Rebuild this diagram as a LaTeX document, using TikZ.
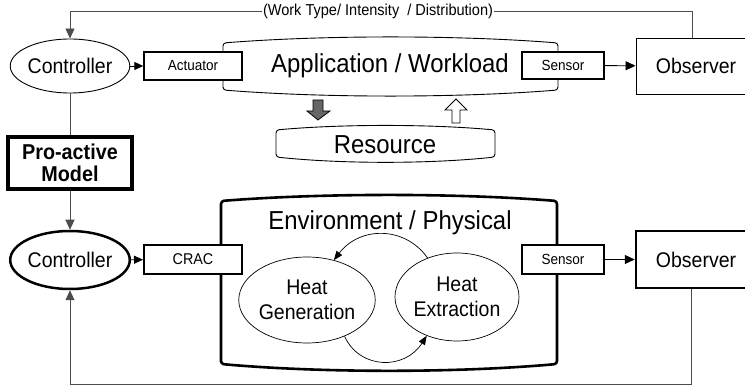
\documentclass[tikz,border=0pt]{standalone}
\usepackage{fontspec}
\setmainfont[FakeStretch=0.92]{Liberation Sans}
\usetikzlibrary{arrows.meta,shapes.geometric,calc}

% font sizes (1pt = one unit of the drawing)
\newcommand\fsbig{\fontsize{26}{30}\selectfont}
\newcommand\fsmid{\fontsize{21.2}{25.5}\selectfont}
\newcommand\fssmall{\fontsize{14.7}{17}\selectfont}
\newcommand\fscrac{\fontsize{15.6}{18}\selectfont}
\newcommand\fslabel{\fontsize{15.8}{18}\selectfont}
\newcommand\fsbold{\fontsize{21.5}{21.5}\selectfont\bfseries}

% lens-like container: vertical sides, top and bottom edges bowed outwards
% #1 style, #2 left x, #3 right x, #4 top corner y, #5 bottom corner y, #6 top bow, #7 bottom bow
\newcommand\lensbox[7]{%
  \draw[#1,rounded corners=3pt] (#2,#5) -- (#2,#4)
    .. controls ($(#2,#4)!0.3!(#3,#4)+(0,-#6)$) and ($(#2,#4)!0.7!(#3,#4)+(0,-#6)$) .. (#3,#4)
    -- (#3,#5)
    .. controls ($(#2,#5)!0.7!(#3,#5)+(0,#7)$) and ($(#2,#5)!0.3!(#3,#5)+(0,#7)$) .. cycle;}

\tikzset{
  conn/.style={draw=black!70, line width=0.9pt},
  tipbig/.style={-{Triangle[length=10pt,width=9pt]}},
  tipsmall/.style={-{Triangle[length=9pt,width=8pt]}},
  ctrl/.style={ellipse, draw, fill=white, inner sep=0pt, font=\fsmid},
  smallbox/.style={rectangle, draw, fill=white, inner sep=0pt, minimum width=98pt},
  obsbox/.style={rectangle, draw, fill=white, inner sep=0pt, minimum width=120pt, font=\fsmid},
  heat/.style={ellipse, draw, line width=0.7pt, minimum width=124pt, inner sep=0pt, align=center, font=\fsmid},
}

\begin{document}
\begin{tikzpicture}[x=1pt,y=-1pt]
\useasboundingbox (0,0) rectangle (745,387);
\clip (0,0) rectangle (745,387);

% ---------- upper loop: application / workload ----------
\lensbox{line width=0.9pt}{223}{558}{43}{90}{8}{8}
\node[font=\fsbig] (app) at (390,66) {Application / Workload};

\lensbox{line width=0.9pt}{276}{495}{130}{157}{6}{7}
\node[font=\fsbig] (res) at (385,145) {Resource};

% resource exchange arrows
\draw[line width=0.8pt, fill=black!60] (313,100) -- (323,100) -- (323,111) -- (330,111)
  -- (318,120) -- (307,111) -- (313,111) -- cycle;
\draw[line width=0.8pt, fill=white] (452,123) -- (460,123) -- (460,110) -- (467,110)
  -- (456,99) -- (445,110) -- (452,110) -- cycle;

\node[ctrl, line width=0.9pt, minimum width=113pt, minimum height=54pt] (c1) at (70,66) {Controller};
\node[smallbox, line width=1.4pt, minimum height=28pt, font=\fssmall] (act) at (193,66) {Actuator};
\node[smallbox, line width=1.4pt, minimum width=82pt, minimum height=27pt, font=\fssmall] (s1) at (563,65.5) {Sensor};
\node[obsbox, line width=0.9pt, minimum height=56pt] (o1) at (696,66) {Observer};

\draw[conn, draw=black, tipsmall] (c1) -- (act);
\draw[conn, draw=black, tipbig] (s1) -- (o1);

% workload feedback from the observer
\coordinate (topl) at (70,11);
\draw[conn, tipbig] ([xshift=57pt]o1.north west) |- (topl) -- (c1.north);
\node[fill=white, inner sep=1.5pt, font=\fslabel] (lbl) at (378,11)
  {(Work Type/ Intensity\ \ / Distribution)};

% ---------- pro-active model ----------
\node[rectangle, draw, line width=4pt, fill=white, inner sep=0pt, minimum width=124pt,
  minimum height=52pt, align=center, font=\fsbold] (pm) at (70,163) {Pro-active\\Model};

% ---------- lower loop: environment / physical ----------
\lensbox{line width=2.6pt}{221}{557}{201}{364}{8}{9}
\node[font=\fsbig] (env) at (390,223) {Environment / Physical};

\node[heat] (gen) at (307,300) [minimum height=86pt] {Heat\\Generation};
\node[heat] (ext) at (457,297) [minimum height=88pt] {Heat\\Extraction};

\draw[line width=0.7pt, -{Triangle[length=9pt,width=7pt]}]
  (ext.127) .. controls (405,226) and (360,226) .. (gen.56);
\draw[line width=0.7pt, -{Triangle[length=9pt,width=7pt]}]
  (gen.-44) .. controls (360,370) and (405,370) .. (ext.-128);

\node[ctrl, line width=2.5pt, minimum width=114pt, minimum height=58pt] (c2) at (70,260) {Controller};
\node[smallbox, line width=2pt, minimum height=29pt, font=\fscrac] (crac) at (193,259.5) {CRAC};
\node[smallbox, line width=2pt, minimum width=82pt, minimum height=29pt, font=\fssmall] (s2) at (563,259.5) {Sensor};
\node[obsbox, line width=2.5pt, minimum height=57pt] (o2) at (696,259.5) {Observer};

\draw[conn, draw=black, tipsmall] (c2) -- (crac);
\draw[conn, draw=black, tipbig] (s2) -- (o2);

% model links
\draw[conn] (c1.south) -- (pm.north);
\draw[conn, tipbig] (pm.south) -- (c2.north);

% physical feedback from the observer
\coordinate (botl) at (70,384);
\draw[conn, tipbig] ([xshift=57pt]o2.south west) |- (botl) -- (c2.south);
\end{tikzpicture}
\end{document}
